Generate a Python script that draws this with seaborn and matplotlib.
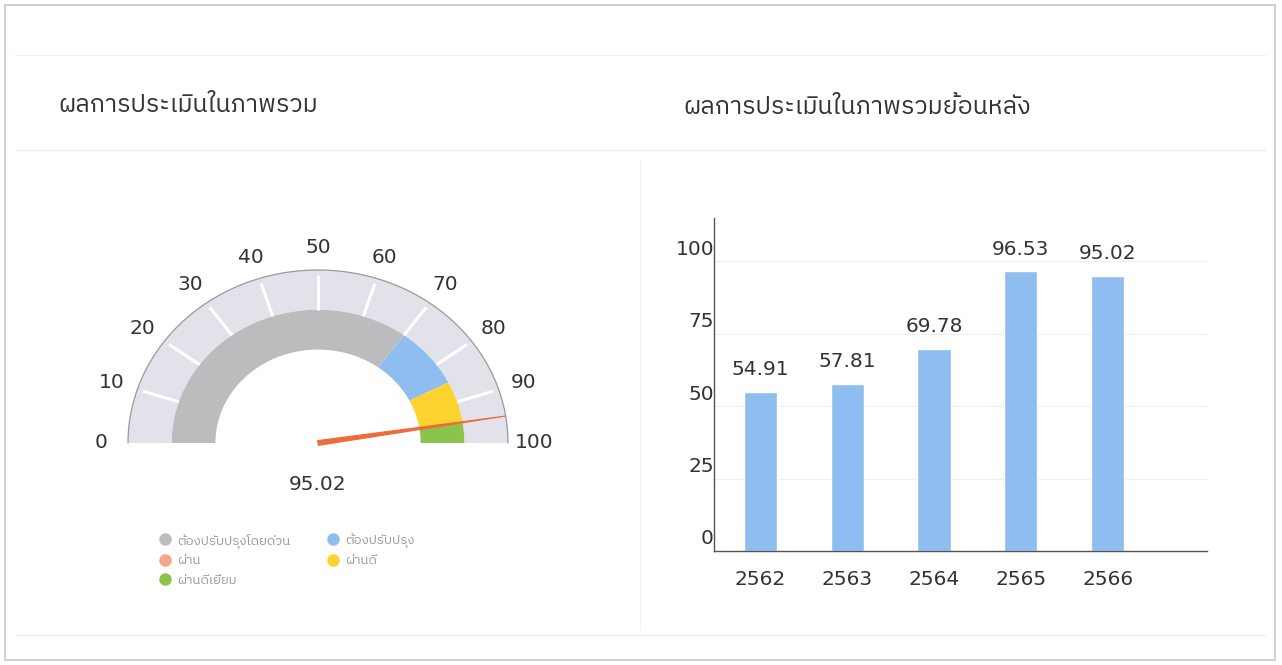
import numpy as np
import pandas as pd
import matplotlib
matplotlib.use("Agg")
import matplotlib.pyplot as plt
import matplotlib.transforms as mtransforms
from matplotlib import font_manager
from matplotlib.ft2font import FT2Font
from matplotlib.lines import Line2D
from matplotlib.patches import Polygon, Rectangle
import seaborn as sns

# data
years = ["2562", "2563", "2564", "2565", "2566"]
scores = [54.91, 57.81, 69.78, 96.53, 95.02]
current_score = 95.02
gauge_ticks = [0, 10, 20, 30, 40, 50, 60, 70, 80, 90, 100]
band_edges = [0, 70, 85, 95, 100]
band_colors = ["#bcbcbe", "#8fbdf0", "#fcd22e", "#8cc34a"]
legend_labels = ["ต้องปรับปรุงโดยด่วน", "ผ่าน", "ผ่านดีเยี่ยม", "ต้องปรับปรุง", "ผ่านดี"]
legend_colors = ["#bcbcbe", "#f4a58a", "#8cc34a", "#8fbdf0", "#fcd22e"]
title_left = "ผลการประเมินในภาพรวม"
title_right = "ผลการประเมินในภาพรวมย้อนหลัง"


# pick an installed font that has Thai glyphs
def find_thai_font():
    preferred = []
    others = []
    for f in font_manager.fontManager.ttflist:
        try:
            cmap = FT2Font(f.fname).get_charmap()
        except Exception:
            continue
        if 0x0E1C in cmap and 0x0E25 in cmap and 0x0E34 in cmap:
            if "Thai" in f.name or "Loopless" in f.name:
                preferred.append(f.name)
            else:
                others.append(f.name)
    found = preferred + others
    return found[0] if found else "DejaVu Sans"


sns.set_theme(style="white")
thai = find_thai_font()
plt.rcParams["font.family"] = [thai, "DejaVu Sans"]
NUM = "DejaVu Sans"
NUM_SIZE = 14.5

W, H = 1282, 665
fig = plt.figure(figsize=(W / 100, H / 100), dpi=100)
fig.patch.set_facecolor("white")

# card frame and faint separators
fig.patches.append(Rectangle((5 / W, 5 / H), 1270 / W, 655 / H, transform=fig.transFigure,
                             fill=False, edgecolor="#c8c8c8", lw=1.2))
for yy in [55, 150, 635]:
    fig.add_artist(Line2D([15 / W, 1265 / W], [1 - yy / H, 1 - yy / H], color="#f0f0f0", lw=1))
fig.add_artist(Line2D([640 / W, 640 / W], [1 - 160 / H, 1 - 630 / H], color="#f3f3f3", lw=1))

# titles
fig.text(58 / W, 1 - 105 / H, title_left, fontsize=18, color="#333333", va="center", ha="left")
fig.text(683 / W, 1 - 107 / H, title_right, fontsize=18, color="#333333", va="center", ha="left")

# ---------- gauge ----------
cx, cy = 318, H - 443      # centre in pixels
rx, ry = 190, 173          # radius in pixels (x, y)
gl, gr, gb, gt = 60, 576, 150, 440
axg = fig.add_axes([gl / W, gb / H, (gr - gl) / W, (gt - gb) / H])
axg.set_xlim((gl - cx) / rx, (gr - cx) / rx)
axg.set_ylim((gb - cy) / ry, (gt - cy) / ry)
axg.axis("off")


def arc_poly(v0, v1, r0, r1, n=60):
    a = np.radians(180 - np.linspace(v0, v1, n) * 1.8)
    xs = np.concatenate([r1 * np.cos(a), r0 * np.cos(a[::-1])])
    ys = np.concatenate([r1 * np.sin(a), r0 * np.sin(a[::-1])])
    return np.column_stack([xs, ys])


# outer light band
axg.add_patch(Polygon(arc_poly(0, 100, 0.77, 1.0, 200), closed=True,
                      facecolor="#e1e2ea", edgecolor="none"))
a = np.radians(180 - np.linspace(0, 100, 200) * 1.8)
axg.plot(np.cos(a), np.sin(a), color="#9a9a9a", lw=0.9)

# coloured inner bands
for v0, v1, c in zip(band_edges[:-1], band_edges[1:], band_colors):
    axg.add_patch(Polygon(arc_poly(v0, v1, 0.54, 0.77), closed=True,
                          facecolor=c, edgecolor="none"))

# white ticks and labels
for t in gauge_ticks:
    ang = np.radians(180 - t * 1.8)
    if 0 < t < 100:
        axg.plot([0.77 * np.cos(ang), 0.97 * np.cos(ang)],
                 [0.77 * np.sin(ang), 0.97 * np.sin(ang)], color="white", lw=2.2,
                 solid_capstyle="butt")
    axg.text(1.14 * np.cos(ang), 1.13 * np.sin(ang), str(t), ha="center", va="center",
             fontsize=NUM_SIZE, color="#333333", family=NUM)

# needle
ang = np.radians(180 - current_score * 1.8)
perp = ang + np.pi / 2
w0 = 0.014
needle = [(w0 * np.cos(perp), w0 * np.sin(perp)),
          (np.cos(ang), np.sin(ang)),
          (-w0 * np.cos(perp), -w0 * np.sin(perp))]
axg.add_patch(Polygon(needle, closed=True, facecolor="#ee6b3b", edgecolor="#ee6b3b", lw=0.8))
axg.text(0, (H - 484 - cy) / ry, f"{current_score:.2f}", ha="center", va="center",
         fontsize=NUM_SIZE, color="#333333", family=NUM)

# legend
handles = [Line2D([], [], marker="o", ls="none", markersize=8, markerfacecolor=c,
                  markeredgecolor=c) for c in legend_colors]
fig.legend(handles, legend_labels, ncol=2, loc="upper left", bbox_to_anchor=(145 / W, 1 - 521 / H),
           frameon=False, fontsize=9.5, labelcolor="#9a9a9a", handletextpad=0.35,
           columnspacing=2.6, labelspacing=0.5, handlelength=1.2)

# ---------- bar chart ----------
df = pd.DataFrame({"year": years, "score": scores})
axb = fig.add_axes([714 / W, 114 / H, 493 / W, 333 / H])
sns.barplot(data=df, x="year", y="score", color="#8fbdf0", width=0.38, ax=axb,
            saturation=1)
axb.set_xlim(-0.53, 5.14)
axb.set_ylim(0, 115)
axb.set_yticks([0, 25, 50, 75, 100])
axb.set_xlabel("")
axb.set_ylabel("")
axb.grid(axis="y", color="#efefef", lw=0.8)
axb.set_axisbelow(True)
for s in ["top", "right"]:
    axb.spines[s].set_visible(False)
for s in ["left", "bottom"]:
    axb.spines[s].set_color("#555555")
    axb.spines[s].set_linewidth(1.0)
axb.tick_params(axis="both", length=0, labelsize=NUM_SIZE, labelcolor="#333333")
axb.tick_params(axis="x", pad=14)
axb.tick_params(axis="y", pad=0)
offset = mtransforms.ScaledTranslation(0, 14 / 100, fig.dpi_scale_trans)
for lab in axb.get_xticklabels() + axb.get_yticklabels():
    lab.set_family(NUM)
for lab in axb.get_yticklabels():
    lab.set_transform(lab.get_transform() + offset)
txts = axb.bar_label(axb.containers[0], labels=[f"{v:.2f}" for v in scores], padding=9,
                     fontsize=NUM_SIZE, color="#333333")
for t in txts:
    t.set_family(NUM)

fig.savefig("out.png", dpi=100, facecolor="white")
